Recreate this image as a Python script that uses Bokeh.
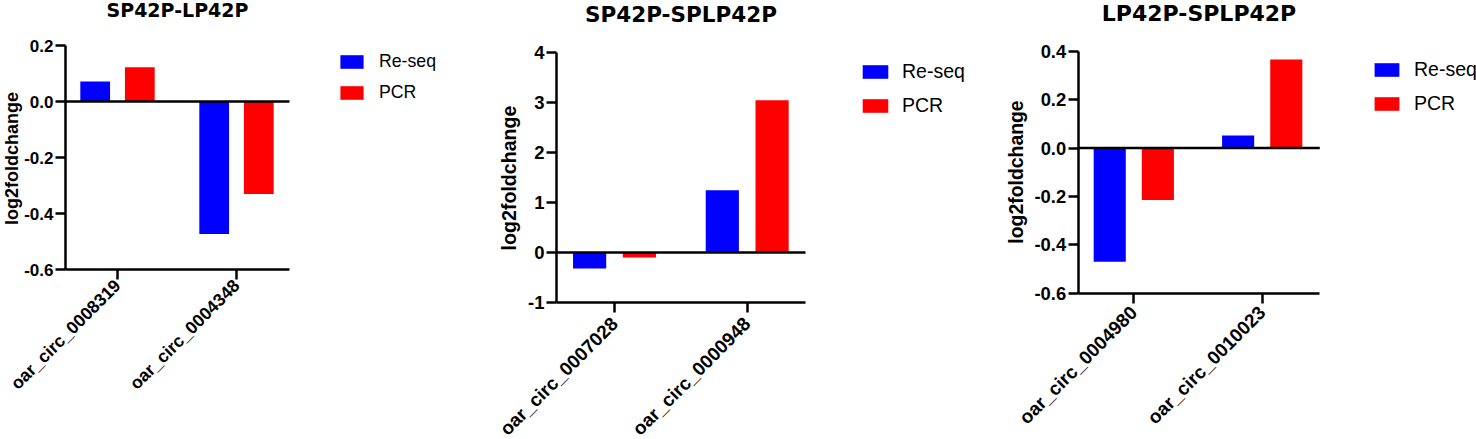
import math
from bokeh.plotting import figure
from bokeh.layouts import row
from bokeh.models import Range1d, FixedTicker, Legend, LegendItem
from bokeh.core.properties import value
from bokeh.embed import file_html
from bokeh.resources import INLINE

# ---------------- data ----------------
series_names = ["Re-seq", "PCR"]
series_colors = ["#0000FF", "#FF0000"]

title_1 = "SP42P-LP42P"
genes_1 = ["oar_circ_0008319", "oar_circ_0004348"]
reseq_1 = [0.071, -0.473]
pcr_1 = [0.122, -0.330]
yticks_1 = [-0.6, -0.4, -0.2, 0.0, 0.2]
ylabels_1 = ["-0.6", "-0.4", "-0.2", "0.0", "0.2"]

title_2 = "SP42P-SPLP42P"
genes_2 = ["oar_circ_0007028", "oar_circ_0000948"]
reseq_2 = [-0.32, 1.25]
pcr_2 = [-0.10, 3.05]
yticks_2 = [-1, 0, 1, 2, 3, 4]
ylabels_2 = ["-1", "0", "1", "2", "3", "4"]

title_3 = "LP42P-SPLP42P"
genes_3 = ["oar_circ_0004980", "oar_circ_0010023"]
reseq_3 = [-0.470, 0.052]
pcr_3 = [-0.215, 0.366]
yticks_3 = [-0.6, -0.4, -0.2, 0.0, 0.2, 0.4]
ylabels_3 = ["-0.6", "-0.4", "-0.2", "0.0", "0.2", "0.4"]

ylabel = "log2foldchange"

FONT = "Liberation Sans"
TFONT = "DejaVu Sans"
H = 439


def panel(title, genes, reseq, pcr, yticks, ylabels, g):
    W = g["width"]
    xpx = g["xpx"]
    ypx = (g["axis_bottom"] - g["axis_top"]) / (yticks[-1] - yticks[0])

    def dx(px):  # panel pixel -> data x
        return 1 + (px - g["cat1"]) / xpx

    def dy(py):  # panel pixel -> data y
        return yticks[0] + (g["axis_bottom"] - py) / ypx

    ax_x0 = dx(g["left"])
    ax_x1 = dx(g["left"] + g["axis_len"])

    p = figure(width=W, height=H, output_backend="svg", toolbar_location=None,
               x_range=Range1d(dx(0), dx(W)), y_range=Range1d(dy(H), dy(0)),
               min_border_left=0, min_border_top=0, min_border_right=0, min_border_bottom=0)
    p.outline_line_color = None
    p.xgrid.visible = False
    p.ygrid.visible = False
    p.background_fill_color = "white"
    p.border_fill_color = "white"

    xs = [i + 1 for i in range(len(genes))]
    off = 0.1875
    r1 = p.vbar(x=[x - off for x in xs], top=reseq, bottom=0, width=0.25,
                fill_color=series_colors[0], line_color=None)
    r2 = p.vbar(x=[x + off for x in xs], top=pcr, bottom=0, width=0.25,
                fill_color=series_colors[1], line_color=None)

    # zero reference line across the axis extent
    p.segment(x0=[ax_x0], x1=[ax_x1], y0=[0], y1=[0], line_color="black", line_width=2.5)

    s = g["scale"]
    # title
    p.text(x=[(ax_x0 + ax_x1) / 2], y=[dy(g["title_base"])], text=[title],
           text_align="center", text_baseline="alphabetic",
           text_font=value(TFONT), text_font_size=f"{g['title_size']}px",
           text_font_style="bold", text_color="black")
    # y axis title
    p.text(x=[dx(g["ylab_x"])], y=[dy(g["ylab_y"])], text=[ylabel], angle=math.pi / 2,
           text_align="center", text_baseline="middle",
           text_font=value(FONT), text_font_size=f"{18 * s:.1f}px",
           text_font_style="bold", text_color="black")

    # y axis
    ya = p.yaxis[0]
    ya.fixed_location = ax_x0
    ya.bounds = (yticks[0], yticks[-1])
    ya.ticker = FixedTicker(ticks=yticks, minor_ticks=[])
    ya.major_label_overrides = {t: l for t, l in zip(yticks, ylabels)}
    ya.major_label_text_font = FONT
    ya.major_label_text_font_size = f"{17 * s:.1f}px"
    ya.major_label_text_font_style = "bold"
    ya.major_label_text_color = "black"
    ya.major_label_standoff = 2
    ya.major_tick_out = 10
    ya.major_tick_in = 0
    ya.minor_tick_out = 0
    ya.minor_tick_in = 0
    ya.axis_line_width = 2.5
    ya.major_tick_line_width = 2.5
    ya.axis_line_color = "black"
    ya.major_tick_line_color = "black"

    # x axis
    xa = p.xaxis[0]
    xa.fixed_location = yticks[0]
    xa.bounds = (ax_x0, ax_x1)
    xa.ticker = FixedTicker(ticks=xs, minor_ticks=[])
    xa.major_label_overrides = {x: gname for x, gname in zip(xs, genes)}
    xa.major_label_orientation = math.pi / 4
    xa.major_label_text_font = FONT
    xa.major_label_text_font_size = f"{g['xlab_size']}px"
    xa.major_label_text_font_style = "bold"
    xa.major_label_text_color = "black"
    xa.major_label_standoff = g["xlab_standoff"]
    xa.major_tick_out = 10
    xa.major_tick_in = 0
    xa.minor_tick_out = 0
    xa.minor_tick_in = 0
    xa.axis_line_width = 2.5
    xa.major_tick_line_width = 2.5
    xa.axis_line_color = "black"
    xa.major_tick_line_color = "black"

    legend = Legend(items=[LegendItem(label=series_names[0], renderers=[r1]),
                           LegendItem(label=series_names[1], renderers=[r2])],
                    location=(g["leg_x"], H - g["leg_top"]), orientation="vertical")
    legend.padding = 0
    legend.margin = 0
    legend.spacing = g["leg_spacing"]
    legend.border_line_alpha = 0
    legend.background_fill_alpha = 0
    legend.glyph_width = g["glyph_w"]
    legend.glyph_height = 17
    legend.label_standoff = g["leg_standoff"]
    legend.label_text_font = FONT
    legend.label_text_font_size = f"{g['leg_size']}px"
    legend.label_text_color = "black"
    p.add_layout(legend, "center")
    return p


# leg_top: distance from panel top to legend bottom edge
geo_1 = dict(width=480, left=65, axis_top=45, axis_bottom=269,
             xpx=119.0, cat1=117, axis_len=224, scale=1.0,
             title_base=9.5, title_size=19, ylab_x=11, ylab_y=158,
             xlab_size=17.6, xlab_standoff=3,
             leg_x=337, leg_top=103, leg_spacing=10, glyph_w=29, leg_standoff=13, leg_size=17.7)
geo_2 = dict(width=500, left=76, axis_top=52.3, axis_bottom=302,
             xpx=132.7, cat1=134, axis_len=249, scale=1.09,
             title_base=13.5, title_size=21.5, ylab_x=28, ylab_y=177.5,
             xlab_size=18.9, xlab_standoff=8,
             leg_x=379, leg_top=117, leg_spacing=11, glyph_w=32, leg_standoff=11, leg_size=19.5)
geo_3 = dict(width=496, left=97.7, axis_top=50.7, axis_bottom=292.7,
             xpx=128.4, cat1=153.3, axis_len=241.6, scale=1.08,
             title_base=13, title_size=22, ylab_x=35, ylab_y=171.5,
             xlab_size=18.9, xlab_standoff=6,
             leg_x=391, leg_top=115, leg_spacing=11, glyph_w=31, leg_standoff=12, leg_size=19.5)

p1 = panel(title_1, genes_1, reseq_1, pcr_1, yticks_1, ylabels_1, geo_1)
p2 = panel(title_2, genes_2, reseq_2, pcr_2, yticks_2, ylabels_2, geo_2)
p3 = panel(title_3, genes_3, reseq_3, pcr_3, yticks_3, ylabels_3, geo_3)

layout = row(p1, p2, p3)

open("out.html", "w").write(file_html(layout, INLINE))
